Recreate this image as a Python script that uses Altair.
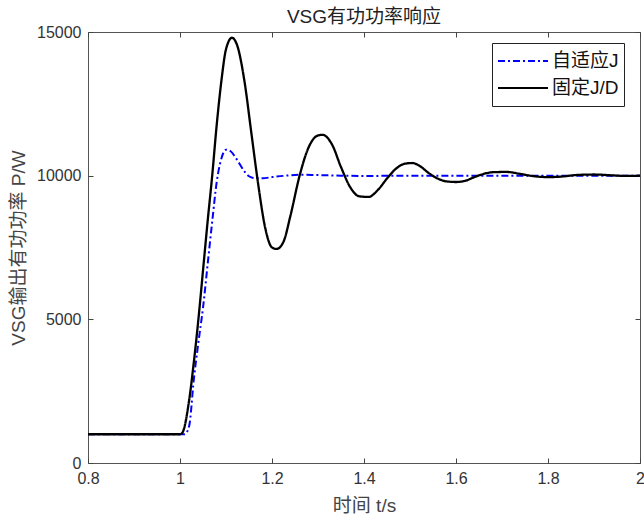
import altair as alt
import pandas as pd

names = ["自适应J", "固定J/D"]

# 固定J/D (black solid)
t_fixed = [0.80, 0.90, 1.00, 1.005, 1.02, 1.03, 1.04, 1.05, 1.06, 1.07, 1.08, 1.09, 1.10, 1.113,
           1.125, 1.14, 1.155, 1.17, 1.185, 1.20, 1.21, 1.225, 1.24, 1.26, 1.28, 1.30, 1.31,
           1.33, 1.35, 1.37, 1.39, 1.41, 1.43, 1.45, 1.47, 1.49, 1.505, 1.52, 1.54, 1.56,
           1.58, 1.60, 1.62, 1.64, 1.66, 1.68, 1.71, 1.74, 1.77, 1.80, 1.83, 1.86, 1.90,
           1.94, 1.97, 2.00]
p_fixed = [1000, 1000, 1000, 1050, 2200, 3500, 5000, 6700, 8400, 10000, 11800, 13300, 14400, 14800,
           14500, 13300, 11500, 9700, 8200, 7500, 7450, 7700, 8600, 10000, 11000, 11400, 11420,
           11100, 10300, 9600, 9280, 9260, 9500, 9900, 10250, 10420, 10440, 10350, 10100, 9900,
           9800, 9780, 9820, 9950, 10060, 10120, 10130, 10060, 9980, 9950, 9970, 10020, 10040,
           10010, 9990, 10000]

# 自适应J (blue dash-dot)
t_adapt = [0.80, 1.00, 1.01, 1.02, 1.03, 1.04, 1.05, 1.06, 1.07, 1.08, 1.09, 1.10, 1.11, 1.12,
           1.13, 1.14, 1.15, 1.16, 1.18, 1.20, 1.23, 1.26, 1.30, 1.35, 1.40, 1.50, 2.00]
p_adapt = [1000, 1000, 1000, 1300, 2900, 4200, 5400, 6900, 8400, 9800, 10600, 10900, 10850, 10650,
           10400, 10150, 9980, 9920, 9910, 9950, 10000, 10030, 10020, 10000, 9990, 10000, 10000]

x_ticks = [0.8, 1.0, 1.2, 1.4, 1.6, 1.8, 2.0]
y_ticks = [0, 5000, 10000, 15000]

df = pd.concat([
    pd.DataFrame({"t": t_adapt, "P": p_adapt, "s": names[0]}),
    pd.DataFrame({"t": t_fixed, "P": p_fixed, "s": names[1]}),
], ignore_index=True)

FONT = "Liberation Sans, Noto Sans CJK SC"

color_scale = alt.Scale(domain=names, range=["#0000ff", "#000000"])
dash_scale = alt.Scale(domain=names, range=[[7, 3, 2, 3], [1, 0]])
xs = alt.Scale(domain=[0.8, 2.0], nice=False)
ys = alt.Scale(domain=[0, 15000], nice=False)

legend = alt.Legend(
    title=None, orient="none", legendX=404, legendY=11,
    symbolType="stroke", symbolSize=2500, symbolStrokeWidth=2, clipHeight=26,
    labelFontSize=19, labelFont=FONT, labelColor="#111", labelOffset=3,
    strokeColor="#222", fillColor="white", padding=5, rowPadding=1,
)

main_x = alt.Axis(title="时间 t/s", values=x_ticks, format="~g", offset=-5, tickSize=5,
                  domain=False, grid=False, labelPadding=7, labelFlush=False,
                  labelFontSize=16, titleFontSize=19, titlePadding=10,
                  titleFontWeight="normal", tickColor="#444", labelColor="#333",
                  titleColor="#444", labelFont=FONT, titleFont=FONT)
main_y = alt.Axis(title="VSG输出有功功率 P/W", values=y_ticks, format="d", offset=-5, tickSize=5,
                  domain=False, grid=False, labelPadding=7,
                  labelFontSize=16, titleFontSize=19, titlePadding=8,
                  titleFontWeight="normal", tickColor="#444", labelColor="#333",
                  titleColor="#444", labelFont=FONT, titleFont=FONT)
top_x = alt.Axis(orient="top", title=None, values=x_ticks, labels=False, offset=-5, tickSize=5,
                 domain=False, grid=False, tickColor="#444")
right_y = alt.Axis(orient="right", title=None, values=y_ticks, labels=False, offset=-5, tickSize=5,
                   domain=False, grid=False, tickColor="#444")

blue = alt.Chart(df).transform_filter(alt.datum.s == names[0]).mark_line(
    strokeWidth=2, interpolate="monotone").encode(
    x=alt.X("t:Q", scale=xs, axis=main_x),
    y=alt.Y("P:Q", scale=ys, axis=main_y),
    color=alt.Color("s:N", scale=color_scale, legend=legend),
    strokeDash=alt.StrokeDash("s:N", scale=dash_scale, legend=legend),
)
black = alt.Chart(df).transform_filter(alt.datum.s == names[1]).mark_line(
    strokeWidth=2.3, interpolate="monotone").encode(
    x=alt.X("t:Q", scale=xs, axis=top_x),
    y=alt.Y("P:Q", scale=ys, axis=right_y),
    color=alt.Color("s:N", scale=color_scale, legend=legend),
    strokeDash=alt.StrokeDash("s:N", scale=dash_scale, legend=legend),
)

chart = alt.layer(blue, black).resolve_axis(x="independent", y="independent").properties(
    width=552, height=431,
    title=alt.TitleParams("VSG有功功率响应", fontSize=19, fontWeight="normal", font=FONT,
                          color="#222", anchor="middle", offset=-3),
    autosize=alt.AutoSizeParams(type="none"),
    padding={"left": 88, "top": 32, "right": 4, "bottom": 54},
).configure_view(stroke="#555", strokeWidth=1)

chart.save("out.html", embed_options={"renderer": "svg", "actions": False})
